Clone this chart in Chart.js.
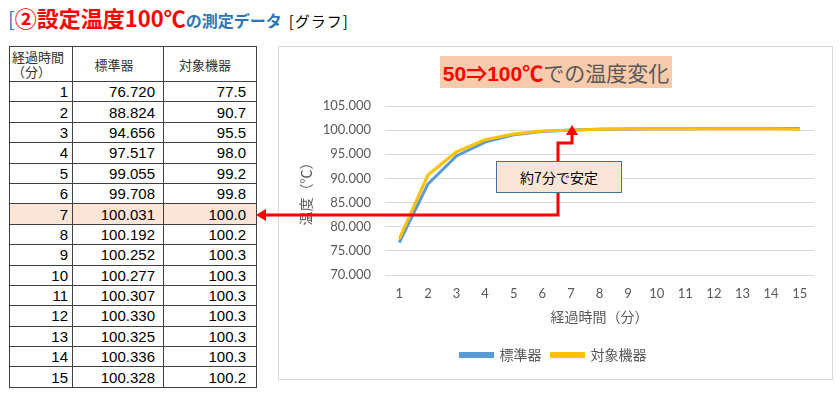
<!DOCTYPE html>
<html>
<head>
<meta charset="utf-8">
<script src="https://cdn.jsdelivr.net/npm/chart.js@4.4.0/dist/chart.umd.min.js"></script>
<style>
body{margin:0;width:840px;height:395px;background:#fff;position:relative;overflow:hidden;font-family:"Liberation Sans","Noto Sans CJK JP",sans-serif;}
#ttl{position:absolute;left:8px;top:2px;white-space:nowrap;font-family:"Noto Sans CJK JP",sans-serif;line-height:30px;}
#ttl .b{color:#2e75b6;font-size:20px;}
#ttl .r{color:#ff0000;font-size:22px;font-weight:bold;}
#ttl .m{color:#2e75b6;font-size:16px;font-weight:bold;}
#ttl .k{color:#000;font-size:15px;margin-left:7px;letter-spacing:1px;}
#tbl{position:absolute;left:9px;top:46px;border-collapse:collapse;font-size:15px;color:#000;}
#tbl td{border:1px solid #404040;padding:0;height:19.4px;line-height:19px;text-align:right;}
#tbl tr.hd td{height:34px;font-family:"Noto Sans CJK JP",sans-serif;font-size:13px;color:#333;text-align:center;line-height:15px;}
#tbl tr.hd td.c0{text-align:left;padding-left:2px;}
#tbl tr.hl td{background:#fce4d6;}
#tbl td.c0{width:56px;padding-right:4px;}
#tbl td.c1{width:82px;padding-right:8px;}
#tbl td.c2{width:82px;padding-right:10px;}
#box{position:absolute;left:278px;top:46px;width:553px;height:332px;border:1px solid #d9d9d9;}
#arrow{position:absolute;left:0;top:0;}
#ctitle{position:absolute;left:440px;top:56px;width:232px;height:32px;background:#f8cbad;text-align:center;line-height:32px;font-size:21px;font-family:"Noto Sans CJK JP",sans-serif;white-space:nowrap;}
#ctitle .r{color:#ff0000;font-weight:bold;font-family:"Liberation Sans","Noto Sans CJK JP",sans-serif;}
#ctitle .g{color:#595959;}
#note{position:absolute;left:496px;top:161px;width:124px;height:30px;background:#fbe5d6;border:1px solid #41719c;text-align:center;line-height:30px;font-size:14px;font-family:"Noto Sans CJK JP",sans-serif;color:#000;}
</style>
</head>
<body>
<div id="ttl"><span class="b">[</span><span class="r">②設定温度100℃</span><span class="m">の測定データ</span><span class="k">[グラフ]</span></div>
<table id="tbl"></table>
<div id="box"><canvas id="chart" width="553" height="332"></canvas></div>
<svg id="arrow" width="840" height="395">
  <polyline points="264,215 558,215 558,143 572,143 572,134" fill="none" stroke="#ff0000" stroke-width="3"/>
  <polygon points="256,215 266,209 266,221" fill="#ff0000"/>
  <polygon points="572,125 566,135 578,135" fill="#ff0000"/>
</svg>
<div id="ctitle"><span class="r">50⇒100℃</span><span class="g">での温度変化</span></div>
<div id="note">約7分で安定</div>
<script>
var minutes = [1,2,3,4,5,6,7,8,9,10,11,12,13,14,15];
var standardTemp = [76.720,88.824,94.656,97.517,99.055,99.708,100.031,100.192,100.252,100.277,100.307,100.330,100.325,100.336,100.328];
var targetTemp = [77.5,90.7,95.5,98.0,99.2,99.8,100.0,100.2,100.3,100.3,100.3,100.3,100.3,100.3,100.2];
var seriesNames = ["標準器","対象機器"];
var highlightMinute = 7;

// table
var tbl = document.getElementById("tbl");
var html = '<tr class="hd"><td class="c0">経過時間<br>（分）</td><td class="c1">' + seriesNames[0] + '</td><td class="c2">' + seriesNames[1] + '</td></tr>';
minutes.forEach(function(m, i){
    html += '<tr' + (m == highlightMinute ? ' class="hl"' : '') + '><td class="c0">' + m + '</td><td class="c1">' + standardTemp[i].toFixed(3) + '</td><td class="c2">' + targetTemp[i].toFixed(1) + '</td></tr>';
});
tbl.innerHTML = html;

var tickFont = {family:"Lato, 'Liberation Sans', sans-serif", size:13};
var jpFont = {family:"'Noto Sans CJK JP', sans-serif", size:14};

new Chart(document.getElementById("chart"), {
    type: 'line',
    data: {
        labels: minutes,
        datasets: [
            {label: seriesNames[0], data: standardTemp, borderColor:'#5b9bd5', backgroundColor:'#5b9bd5', borderWidth:3, pointRadius:0, order:1},
            {label: seriesNames[1], data: targetTemp, borderColor:'#ffc000', backgroundColor:'#ffc000', borderWidth:3, pointRadius:0, order:0}
        ]
    },
    options: {
        responsive:false,
        animation:false,
        layout:{padding:{top:59,left:14,right:18,bottom:7}},
        plugins:{
            legend:{position:'bottom', labels:{boxWidth:32, boxHeight:3, color:'#595959', font:jpFont, sort:(a,b)=>a.datasetIndex-b.datasetIndex}},
            tooltip:{enabled:false}
        },
        scales:{
            x:{
                offset:true,
                grid:{display:false, drawTicks:false},
                border:{display:false},
                ticks:{color:'#595959', font:tickFont, padding:11, maxRotation:0},
                title:{display:true, text:'経過時間（分）', color:'#595959', font:jpFont, padding:{top:4,bottom:13}},
                afterFit:function(s){ s.height = 63; }
            },
            y:{
                min:70, max:105,
                ticks:{stepSize:5, color:'#595959', font:tickFont, padding:14, callback:v=>v.toFixed(3)},
                grid:{color:'#d9d9d9', drawTicks:false},
                border:{display:false},
                title:{display:true, text:'温度（℃）', color:'#595959', font:jpFont},
                afterFit:function(s){ s.width = 92; }
            }
        }
    }
});
</script>
</body>
</html>
